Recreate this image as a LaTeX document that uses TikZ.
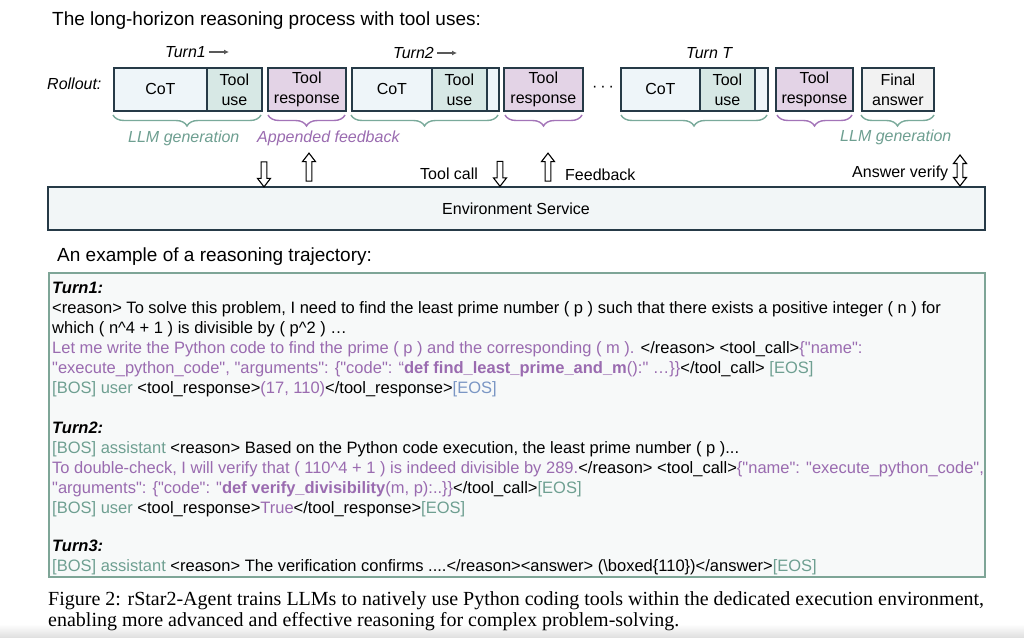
\documentclass[tikz,border=0pt]{standalone}
\usepackage{fontspec}
\setmainfont{Liberation Sans}[Ligatures=TeXOff]
\newfontfamily\capfont{Liberation Serif}
\usetikzlibrary{shapes.arrows,decorations.pathreplacing,arrows.meta}
\definecolor{boxline}{HTML}{263A47}
\definecolor{cotfill}{HTML}{EEF5F9}
\definecolor{toolfill}{HTML}{D7E8E5}
\definecolor{respfill}{HTML}{E3D3E6}
\definecolor{finalfill}{HTML}{F2F2F2}
\definecolor{envfill}{HTML}{F2F6F7}
\definecolor{trajfill}{HTML}{F7F9F9}
\definecolor{trajline}{HTML}{7EA597}
\definecolor{tgreen}{HTML}{6E9F91}
\definecolor{tpurple}{HTML}{9A6BB0}
\definecolor{tblue}{HTML}{7A96C4}
\definecolor{gbrace}{HTML}{7AAA9B}
\definecolor{pbrace}{HTML}{A374B8}
\newcommand\tgr[1]{\textcolor{tgreen}{#1}}
\newcommand\tpu[1]{\textcolor{tpurple}{#1}}
\newcommand\tbl[1]{\textcolor{tblue}{#1}}
\newcommand\fs[2]{\fontsize{#1}{#2}\selectfont}
\begin{document}
\begin{tikzpicture}[x=1pt,y=-1pt,
  seg/.style={draw=boxline, line width=1.8pt, anchor=north west, minimum height=43pt, inner sep=0pt, align=center, font=\fs{16}{20}},
  cot/.style={seg, fill=cotfill},
  tool/.style={seg, fill=toolfill},
  resp/.style={seg, fill=respfill},
  final/.style={seg, fill=finalfill},
  lbl/.style={inner sep=0pt, font=\fs{16}{20}\itshape},
  gbr/.style={draw=gbrace, line width=1.4pt, decorate, decoration={brace, mirror, amplitude=11pt}},
  pbr/.style={draw=pbrace, line width=1.4pt, decorate, decoration={brace, mirror, amplitude=11pt}},
  harrow/.style={single arrow, draw=black, fill=white, line width=1.1pt, inner sep=0pt, inner ysep=2.3pt, minimum width=12pt, single arrow head extend=3.7pt, single arrow tip angle=75},
  darrow/.style={double arrow, draw=black, fill=white, line width=1.1pt, inner sep=0pt, inner ysep=2.3pt, minimum width=12pt, double arrow head extend=3.7pt, double arrow tip angle=75},
  plain/.style={inner sep=0pt, font=\fs{16}{18}},
  ln/.style={inner sep=0pt, anchor=base west, font=\fs{16.5}{20}},
  heading/.style={inner sep=0pt, anchor=west, font=\fs{19}{22}},
  captext/.style={inner sep=0pt, anchor=base west, font=\capfont\fs{20}{21}},
  turnarrow/.style={draw=gray!70!black, line width=1.1pt, -{Latex[length=5pt,width=5pt]}}
]
\useasboundingbox (0,0) rectangle (1024,637);
\fill[white] (0,0) rectangle (1024,637);
\shade[top color=white, bottom color=black!12] (0,624) rectangle (1024,637);

% title
\node[heading] (title) at (52,21) {The long-horizon reasoning process with tool uses:};

% rollout row
\node[lbl, anchor=west] (rollout) at (47,84) {Rollout:};

\node[cot, minimum width=148pt] (t1) at (113,67) {};
\node[cot, minimum width=93pt] (cot1) at (113,67) {CoT};
\node[tool, minimum width=55pt] (use1) at (206,67) {Tool\\use};
\node[resp, minimum width=78pt] (resp1) at (267,67) {Tool\\response};

\node[cot, minimum width=147pt] (t2) at (351,67) {};
\node[cot, minimum width=80pt] (cot2) at (351,67) {CoT};
\node[tool, minimum width=55pt] (use2) at (431,67) {Tool\\use};
\node[resp, minimum width=79pt] (resp2) at (503,67) {Tool\\response};

\node[inner sep=0pt, font=\fs{16}{20}] (dots) at (603,89) {·\hspace{3pt}·\hspace{3pt}·};

\node[cot, minimum width=147pt] (t3) at (620,67) {};
\node[cot, minimum width=79pt] (cot3) at (620,67) {CoT};
\node[tool, minimum width=55pt] (use3) at (699,67) {Tool\\use};
\node[resp, minimum width=77pt] (resp3) at (775,67) {Tool\\response};
\node[final, minimum width=72pt] (final) at (861,67) {Final\\answer};

% turn labels
\node[lbl, anchor=west] (turn1) at (165,52) {Turn1};
\draw[turnarrow] (turn1.east) ++(3,0) -- ++(20,0);
\node[lbl, anchor=west] (turn2) at (393,53) {Turn2};
\draw[turnarrow] (turn2.east) ++(3,0) -- ++(20,0);
\node[lbl, anchor=west] (turnT) at (686,53) {Turn T};

% braces
\draw[gbr] (113,115) -- (261,115);
\draw[pbr] (268,115) -- (345,115);
\draw[gbr] (351,115) -- (498,115);
\draw[pbr] (505,115) -- (582,115);
\draw[gbr] (621,115) -- (767,115);
\draw[pbr] (777,115) -- (852,115);
\draw[gbr] (861,115) -- (934,115);

\node[lbl, anchor=west, text=tgreen] (llm1) at (128,138) {LLM generation};
\node[lbl, anchor=west, text=tpurple] (app) at (257,138) {Appended feedback};
\node[lbl, anchor=west, text=tgreen] (llm2) at (840,137) {LLM generation};

% environment
\node[draw=boxline, line width=1.5pt, fill=envfill, minimum width=937pt, minimum height=43pt, inner sep=0pt, anchor=north west] (env) at (47,186) {};
\node[plain] (envtext) at (516,209) {Environment Service};

% arrows
\node[harrow, minimum height=25pt, rotate=-90] (a1) at (264,172.5) {};
\node[harrow, minimum height=28pt, rotate=90] (a2) at (309,169) {};
\node[harrow, minimum height=25pt, rotate=-90] (a3) at (500,172) {};
\node[harrow, minimum height=28pt, rotate=90] (a4) at (548,169) {};
\node[darrow, minimum height=31pt, rotate=90] (a5) at (960,170.5) {};

\node[plain, anchor=west] (toolcall) at (420,174) {Tool call};
\node[plain, anchor=west] (feedback) at (565,175) {Feedback};
\node[plain, anchor=west] (ansver) at (852,173) {Answer verify};

% example
\node[heading] (extitle) at (57,257) {An example of a reasoning trajectory:};
\node[draw=trajline, line width=1.8pt, fill=trajfill, minimum width=936pt, minimum height=304pt, inner sep=0pt, anchor=north west] (traj) at (48,272) {};

\node[ln] (l1) at (52,293.5) {\textbf{\textit{Turn1:}}};
\node[ln] (l2) at (52,313.5) {<reason> To solve this problem, I need to find the least prime number ( p ) such that there exists a positive integer ( n ) for};
\node[ln] (l3) at (52,333.5) {which ( n\textasciicircum 4 + 1 ) is divisible by ( p\textasciicircum 2 ) …};
\node[ln] (l4) at (52,353.5) {\tpu{Let me write the Python code to find the prime ( p ) and the corresponding ( m ).} </reason> <tool\_call>\tpu{\{"name":}};
\node[ln] (l5) at (52,373.5) {\tpu{"execute\_python\_code", "arguments": \{"code": “\textbf{def find\_least\_prime\_and\_m}():" …\}\}}</tool\_call> \tgr{[EOS]}};
\node[ln] (l6) at (52,393.5) {\tgr{[BOS] user} <tool\_response>\tpu{(17, 110)}</tool\_response>\tbl{[EOS]}};

\node[ln] (l7) at (52,433.5) {\textbf{\textit{Turn2:}}};
\node[ln] (l8) at (52,453.5) {\tgr{[BOS] assistant} <reason> Based on the Python code execution, the least prime number ( p )...};
\node[ln] (l9) at (52,473.5) {\tpu{To double-check, I will verify that ( 110\textasciicircum 4 + 1 ) is indeed divisible by 289.}</reason> <tool\_call>\tpu{\{"name": "execute\_python\_code",}};
\node[ln] (l10) at (52,493.5) {\tpu{"arguments": \{"code": "\textbf{def verify\_divisibility}(m, p):..\}\}}</tool\_call>\tgr{[EOS]}};
\node[ln] (l11) at (52,513.5) {\tgr{[BOS] user} <tool\_response>\tpu{True}</tool\_response>\tgr{[EOS]}};

\node[ln] (l12) at (52,551.5) {\textbf{\textit{Turn3:}}};
\node[ln] (l13) at (52,571.5) {\tgr{[BOS] assistant} <reason> The verification confirms ....</reason><answer> (\textbackslash boxed\{110\})</answer>\tgr{[EOS]}};

% caption
\node[captext] (cap1) at (48,605) {Figure 2: rStar2-Agent trains LLMs to natively use Python coding tools within the dedicated execution environment,};
\node[captext] (cap2) at (48,626) {enabling more advanced and effective reasoning for complex problem-solving.};
\end{tikzpicture}
\end{document}
